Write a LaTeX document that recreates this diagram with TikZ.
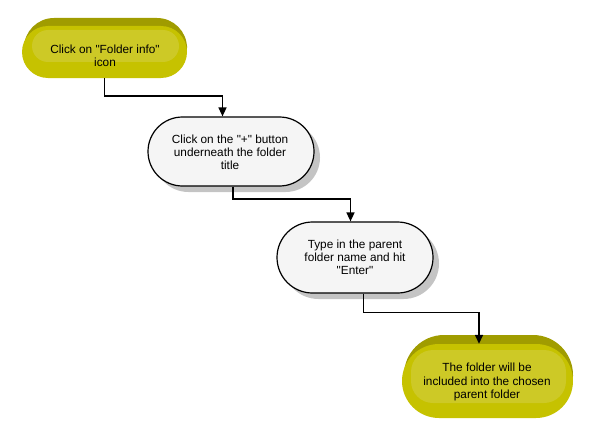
\documentclass[tikz,border=0pt]{standalone}
\usepackage{fontspec}
\newfontfamily\labfont{Liberation Sans}
\usetikzlibrary{shapes.misc,arrows.meta}
\definecolor{ydark}{HTML}{A09C00}
\definecolor{ybody}{HTML}{C6C200}
\definecolor{yhl}{HTML}{CDC926}
\definecolor{wfill}{HTML}{F5F5F5}
\definecolor{shade}{HTML}{C4C4C4}
\tikzset{
  ynode/.style={shape=rounded rectangle, fill=ybody, inner sep=0pt},
  wnode/.style={shape=rounded rectangle, fill=wfill, draw=black, line width=1.2pt, inner sep=0pt},
  wshadow/.style={shape=rounded rectangle, fill=shade, inner sep=0pt},
  label/.style={align=center, font=\labfont\fontsize{11.8}{13.2}\selectfont, inner sep=0pt},
  conn/.style={line width=1.5pt, -{Triangle[length=9pt,width=8pt]}}
}
\begin{document}
\begin{tikzpicture}[x=1pt,y=-1pt]
\useasboundingbox (0,0) rectangle (610,444);
% node 1
\fill[ydark, rounded corners=30pt] (24,18) rectangle (187,76);
\node[ynode, minimum width=165pt, minimum height=52pt] (n1) at (104.5,52) {};
\fill[yhl, rounded corners=16pt] (32,30) rectangle (179,62);
\node[label] (t1) at (105,56) {Click on "Folder info"\\icon};
% node 2
\node[wshadow, minimum width=166pt, minimum height=69pt] (s2) at (237,157.5) {};
\node[wnode, minimum width=166pt, minimum height=69pt] (n2) at (231,151.5) {};
\node[label] (t2) at (230,152) {Click on the "+" button\\underneath the folder\\title};
% node 3
\node[wshadow, minimum width=156pt, minimum height=71pt] (s3) at (361,263.5) {};
\node[wnode, minimum width=156pt, minimum height=71pt] (n3) at (355,257.5) {};
\node[label] (t3) at (355,257) {Type in the parent\\folder name and hit\\"Enter"};
% node 4
\fill[ydark, rounded corners=40pt] (404,335) rectangle (573,416);
\node[ynode, minimum width=171pt, minimum height=74pt] (n4) at (487.5,381) {};
\fill[yhl, rounded corners=22pt] (411,350) rectangle (566,403);
\node[label] (t4) at (487,382) {The folder will be\\included into the chosen\\parent folder};
% connectors
\draw[conn] (n1.south) -- ++(0,18) -| ([xshift=-8.5pt]n2.north);
\draw[conn] ([xshift=2pt]n2.south) -- ++(0,12.5) -| ([xshift=-4.5pt]n3.north);
\draw[conn] ([xshift=8.5pt]n3.south) -- ++(0,19) -| ([xshift=-8.5pt,yshift=0pt]n4.north);
\end{tikzpicture}
\end{document}
